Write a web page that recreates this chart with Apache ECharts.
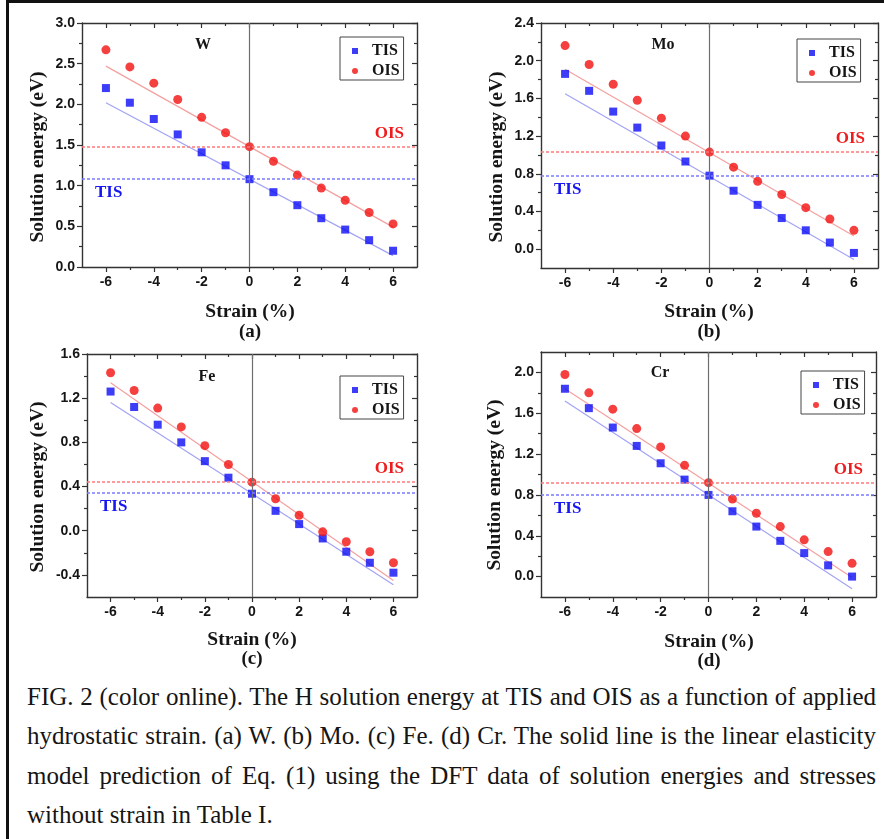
<!DOCTYPE html>
<html>
<head>
<meta charset="utf-8">
<title>H solution energy vs hydrostatic strain</title>
<script src="https://cdn.jsdelivr.net/npm/echarts@6/dist/echarts.min.js"></script>
<style>
  html, body { margin: 0; padding: 0; background: #fff; }
  #fig { position: relative; width: 884px; height: 839px; overflow: hidden; background: #fff; }
  #chart { position: absolute; left: 0; top: 0; width: 884px; height: 670px; }
  .rule-top { position: absolute; left: 6px; top: 0; width: 878px; height: 2.5px; background: #111; }
  .rule-left { position: absolute; left: 6px; top: 0; width: 2.5px; height: 839px; background: #111; }
  #caption { position: absolute; left: 27px; top: 677px; width: 849px;
             font-family: "Liberation Serif", "Times New Roman", serif; font-size: 25px;
             line-height: 39.3px; color: #151515; }
  #caption .j { text-align: justify; text-align-last: justify; }
  #caption .l { text-align: left; }
</style>
</head>
<body>
<div id="fig">
  <div id="chart"></div>
  <div class="rule-top"></div>
  <div class="rule-left"></div>
  <div id="caption">
    <div class="j">FIG. 2 (color online). The H solution energy at TIS and OIS as a function of applied</div>
    <div class="j">hydrostatic strain. (a) W. (b) Mo. (c) Fe. (d) Cr. The solid line is the linear elasticity</div>
    <div class="j">model prediction of Eq. (1) using the DFT data of solution energies and stresses</div>
    <div class="l">without strain in Table I.</div>
  </div>
</div>
<script>
// ---- data ---------------------------------------------------------------
const strain = [-6, -5, -4, -3, -2, -1, 0, 1, 2, 3, 4, 5, 6];
const modelStrain = [-6, 6];               // ends of the linear-elasticity lines
const xMajorTicks = [-6, -4, -2, 0, 2, 4, 6];
const xMinorTicks = [-5, -3, -1, 1, 3, 5];

// (a) W
const wTIS = [2.20, 2.02, 1.82, 1.63, 1.41, 1.25, 1.08, 0.92, 0.76, 0.60, 0.46, 0.33, 0.20];
const wOIS = [2.67, 2.46, 2.26, 2.06, 1.84, 1.65, 1.48, 1.30, 1.13, 0.97, 0.82, 0.67, 0.53];
const wTISModel = [2.02, 0.14];
const wOISModel = [2.47, 0.49];
const wUnstrained = { TIS: 1.08, OIS: 1.48 };
const wRange = [0, 3.0];
const wYTicks = [0, 0.5, 1.0, 1.5, 2.0, 2.5, 3.0];
const wYMinor = [0.25, 0.75, 1.25, 1.75, 2.25, 2.75];

// (b) Mo
const moTIS = [1.86, 1.68, 1.46, 1.29, 1.10, 0.93, 0.78, 0.62, 0.47, 0.33, 0.20, 0.07, -0.04];
const moOIS = [2.16, 1.96, 1.75, 1.58, 1.39, 1.20, 1.03, 0.87, 0.72, 0.58, 0.44, 0.32, 0.20];
const moTISModel = [1.65, -0.11];
const moOISModel = [1.91, 0.14];
const moUnstrained = { TIS: 0.78, OIS: 1.03 };
const moRange = [-0.2, 2.4];
const moYTicks = [0, 0.4, 0.8, 1.2, 1.6, 2.0, 2.4];
const moYMinor = [0.2, 0.6, 1.0, 1.4, 1.8, 2.2];

// (c) Fe
const feTIS = [1.26, 1.12, 0.96, 0.80, 0.63, 0.48, 0.335, 0.18, 0.06, -0.07, -0.19, -0.29, -0.38];
const feOIS = [1.43, 1.27, 1.11, 0.94, 0.77, 0.60, 0.44, 0.29, 0.14, -0.01, -0.10, -0.19, -0.29];
const feTISModel = [1.16, -0.49];
const feOISModel = [1.34, -0.45];
const feUnstrained = { TIS: 0.335, OIS: 0.44 };
const feRange = [-0.6, 1.6];
const feYTicks = [-0.4, 0, 0.4, 0.8, 1.2, 1.6];
const feYMinor = [-0.2, 0.2, 0.6, 1.0, 1.4];

// (d) Cr
const crTIS = [1.84, 1.65, 1.46, 1.28, 1.11, 0.95, 0.80, 0.64, 0.49, 0.35, 0.23, 0.11, 0.00];
const crOIS = [1.98, 1.80, 1.64, 1.45, 1.27, 1.09, 0.92, 0.76, 0.62, 0.49, 0.36, 0.245, 0.13];
const crTISModel = [1.72, -0.12];
const crOISModel = [1.84, -0.01];
const crUnstrained = { TIS: 0.80, OIS: 0.915 };
const crRange = [-0.2, 2.2];
const crYTicks = [0, 0.4, 0.8, 1.2, 1.6, 2.0];
const crYMinor = [0.2, 0.6, 1.0, 1.4, 1.8];

const panels = [
  { tag: '(a)', element: 'W',  tis: wTIS,  ois: wOIS,  tisModel: wTISModel,  oisModel: wOISModel,  zero: wUnstrained,  range: wRange,  yTicks: wYTicks,  yMinor: wYMinor },
  { tag: '(b)', element: 'Mo', tis: moTIS, ois: moOIS, tisModel: moTISModel, oisModel: moOISModel, zero: moUnstrained, range: moRange, yTicks: moYTicks, yMinor: moYMinor },
  { tag: '(c)', element: 'Fe', tis: feTIS, ois: feOIS, tisModel: feTISModel, oisModel: feOISModel, zero: feUnstrained, range: feRange, yTicks: feYTicks, yMinor: feYMinor },
  { tag: '(d)', element: 'Cr', tis: crTIS, ois: crOIS, tisModel: crTISModel, oisModel: crOISModel, zero: crUnstrained, range: crRange, yTicks: crYTicks, yMinor: crYMinor }
];

// ---- layout -------------------------------------------------------------
const boxes = [
  { left: 82,  top: 23,  width: 335, height: 244, legend: [340, 37],  element: [203, 45],  xName: [250, 312], yName: [38, 157],  tag: [250, 332] },
  { left: 541, top: 23,  width: 337, height: 245, legend: [797, 39],  element: [663, 45],  xName: [709, 312], yName: [497, 157], tag: [709, 332] },
  { left: 87,  top: 354, width: 330, height: 243, legend: [340, 376], element: [207, 377], xName: [252, 640], yName: [38, 487],  tag: [252, 659] },
  { left: 541, top: 352, width: 335, height: 245, legend: [801, 371], element: [660, 373], xName: [709, 642], yName: [495, 485], tag: [709, 661] }
];

const INK = '#151515';
const frameLine = { color: '#333', width: 1.4 };
const tickLine = { color: '#333', width: 1.2 };
const tickFont = { color: INK, fontFamily: 'Liberation Sans', fontWeight: 'bold', fontSize: 14 };
const serifBold = '"Liberation Serif", "Times New Roman", serif';

const zip = (xs, ys) => xs.map((x, i) => [x, ys[i]]);
const fmt = v => v.toFixed(1);

const option = {
  animation: false,
  grid: [], xAxis: [], yAxis: [], series: [], legend: [], graphic: { elements: [] }
};

function axisSet(kind, gridIndex, range, ticks, minor) {
  const isX = kind === 'x';
  const lo = isX ? 'bottom' : 'left';
  const hi = isX ? 'top' : 'right';
  const base = { gridIndex: gridIndex, type: 'value', min: range[0], max: range[1], splitLine: { show: false } };
  return [
    // outer side with labels
    Object.assign({}, base, {
      position: lo,
      axisLine: { show: true, onZero: false, lineStyle: frameLine },
      axisTick: { show: true, inside: false, length: 5, customValues: ticks, lineStyle: tickLine },
      axisLabel: Object.assign({ show: true, customValues: ticks, margin: isX ? 8 : 7,
                                 formatter: isX ? (v => String(v)) : fmt }, tickFont)
    }),
    // opposite side of the frame, ticks pointing in
    Object.assign({}, base, {
      position: hi,
      axisLine: { show: true, onZero: false, lineStyle: frameLine },
      axisTick: { show: true, inside: true, length: 5, customValues: ticks, lineStyle: tickLine },
      axisLabel: { show: false }
    }),
    // minor ticks (on the overlay grid)
    Object.assign({}, base, {
      gridIndex: gridIndex + 1, position: lo,
      axisLine: { show: false, onZero: false },
      axisTick: { show: true, inside: false, length: 3, customValues: minor, lineStyle: tickLine },
      axisLabel: { show: false }
    }),
    Object.assign({}, base, {
      gridIndex: gridIndex + 1, position: hi,
      axisLine: { show: false, onZero: false },
      axisTick: { show: true, inside: true, length: 3, customValues: minor, lineStyle: tickLine },
      axisLabel: { show: false }
    })
  ];
}

function refLine(value, color, text, textColor, pos) {
  return {
    silent: true, symbol: ['none', 'none'], animation: false, emphasis: { disabled: true },
    lineStyle: { color: color, width: 1.6, type: [3, 2] },
    label: { show: true, formatter: text, position: pos, distance: [13, 5],
             color: textColor, fontFamily: serifBold, fontWeight: 'bold', fontSize: 17 },
    data: [{ yAxis: value }]
  };
}

panels.forEach((p, i) => {
  const b = boxes[i];
  const g = option.grid.length;
  const rect = { left: b.left, top: b.top, width: b.width, height: b.height, containLabel: false, outerBoundsMode: 'none' };
  option.grid.push(rect, Object.assign({}, rect));

  const xi = option.xAxis.length;
  const yi = option.yAxis.length;
  option.xAxis.push(...axisSet('x', g, [-7, 7], xMajorTicks, xMinorTicks));
  option.yAxis.push(...axisSet('y', g, p.range, p.yTicks, p.yMinor));

  // zero-strain guide
  option.series.push({
    type: 'line', name: p.element + ' zero strain', xAxisIndex: xi, yAxisIndex: yi,
    data: [], symbol: 'none', silent: true, z: 1,
    markLine: {
      silent: true, symbol: ['none', 'none'], animation: false, emphasis: { disabled: true },
      lineStyle: { color: '#6e6e6e', width: 1.2, type: 'solid' },
      label: { show: false },
      data: [{ xAxis: 0 }]
    }
  });

  // linear elasticity model lines, with the unstrained reference levels
  option.series.push({
    type: 'line', name: p.element + ' TIS model', xAxisIndex: xi, yAxisIndex: yi,
    data: zip(modelStrain, p.tisModel), symbol: 'none', silent: true, z: 2,
    lineStyle: { color: '#a3a3f4', width: 1.2 },
    markLine: refLine(p.zero.TIS, '#7a7aff', 'TIS', '#1616f0', 'insideStartBottom')
  });
  option.series.push({
    type: 'line', name: p.element + ' OIS model', xAxisIndex: xi, yAxisIndex: yi,
    data: zip(modelStrain, p.oisModel), symbol: 'none', silent: true, z: 2,
    lineStyle: { color: '#f4a0a0', width: 1.2 },
    markLine: refLine(p.zero.OIS, '#ff7a7a', 'OIS', '#ee1c1c', 'insideEndTop')
  });

  // DFT points
  option.series.push({
    type: 'scatter', name: 'TIS', xAxisIndex: xi, yAxisIndex: yi, z: 3,
    data: zip(strain, p.tis), symbol: 'rect', symbolSize: 8,
    itemStyle: { color: '#0c0cf6' }
  });
  option.series.push({
    type: 'scatter', name: 'OIS', xAxisIndex: xi, yAxisIndex: yi, z: 3,
    data: zip(strain, p.ois), symbol: 'circle', symbolSize: 9,
    itemStyle: { color: '#f21010' }
  });

  option.legend.push({
    left: b.legend[0], top: b.legend[1], orient: 'vertical', data: ['TIS', 'OIS'],
    selectedMode: false, itemWidth: 6, itemHeight: 6, itemGap: 4,
    padding: [6, 4, 1, 12], borderColor: '#444', borderWidth: 1, backgroundColor: '#fff',
    textStyle: { fontFamily: serifBold, fontWeight: 'bold', fontSize: 16, lineHeight: 16, color: INK,
                 padding: [0, 0, 0, 9] }
  });

  const txt = (pos, text, size, rot) => ({
    type: 'text', x: pos[0], y: pos[1], rotation: rot || 0, silent: true,
    style: { text: text, fill: INK, font: 'bold ' + size + 'px ' + serifBold,
             textAlign: 'center', textVerticalAlign: 'middle', align: 'center', verticalAlign: 'middle' }
  });
  option.graphic.elements.push(
    txt(b.element, p.element, 16),
    txt(b.xName, 'Strain (%)', 19.5),
    txt(b.yName, 'Solution energy (eV)', 19.5, Math.PI / 2),
    txt(b.tag, p.tag, 19)
  );
});

const chart = echarts.init(document.getElementById('chart'), null, { renderer: 'canvas' });
chart.setOption(option);
</script>
</body>
</html>
